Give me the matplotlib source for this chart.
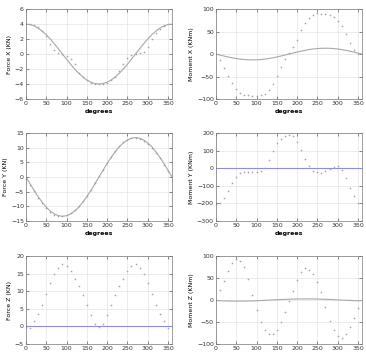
import numpy as np
import matplotlib
matplotlib.use("Agg")
import matplotlib.pyplot as plt

# angles
deg_line = list(range(0, 361, 10))
deg_dots = list(range(0, 351, 10))

# Force X (KN)
fx_line = [4.0, 3.94, 3.76, 3.46, 3.06, 2.57, 2.0, 1.37, 0.69, 0.0, -0.69, -1.37, -2.0,
           -2.57, -3.06, -3.46, -3.76, -3.94, -4.0, -3.94, -3.76, -3.46, -3.06, -2.57,
           -2.0, -1.37, -0.69, 0.0, 0.69, 1.37, 2.0, 2.57, 3.06, 3.46, 3.76, 3.94, 4.0]
fx_dots = [4.0, 4.0, 3.9, 3.6, 3.1, 2.4, 1.3, 0.6, 0.2, 0.0, -0.2, -0.6, -1.3, -2.5, -3.1,
           -3.5, -3.8, -4.0, -4.0, -4.0, -3.8, -3.5, -3.1, -2.3, -1.3, -0.5, -0.1, 0.0,
           0.1, 0.3, 1.0, 2.0, 2.8, 3.4, 3.8, 4.0]

# Moment X (KNm)
mx_line = [0.0, -2.3, -4.4, -6.5, -8.4, -10.0, -11.3, -12.2, -12.8, -13.0, -12.8, -12.2,
           -11.3, -10.0, -8.4, -6.5, -4.4, -2.3, 0.0, 2.3, 4.4, 6.5, 8.4, 10.0, 11.3, 12.2,
           12.8, 13.0, 12.8, 12.2, 11.3, 10.0, 8.4, 6.5, 4.4, 2.3, 0.0]
mx_dots = [0, -13, -30, -48, -64, -77, -86, -91, -92, -93, -93, -91, -88, -81, -67, -49,
           -28, -10, 3, 15, 31, 53, 69, 81, 88, 91, 90, 89, 87, 82, 74, 63, 45, 25, 10, 0]

# Force Y (KN)
fy_line = [0.0, -2.3, -4.6, -6.7, -8.6, -10.3, -11.6, -12.6, -13.2, -13.4, -13.2, -12.6,
           -11.6, -10.3, -8.6, -6.7, -4.6, -2.3, 0.0, 2.3, 4.6, 6.7, 8.6, 10.3, 11.6, 12.6,
           13.2, 13.4, 13.2, 12.6, 11.6, 10.3, 8.6, 6.7, 4.6, 2.3, 0.0]
fy_dots = [-0.6, -2.6, -4.9, -7.0, -9.0, -10.6, -11.8, -12.8, -13.4, -13.2, -13.0, -12.2,
           -11.3, -10.0, -8.3, -6.4, -4.3, -2.1, 0.3, 2.5, 4.8, 6.9, 8.8, 10.5, 11.8, 12.7,
           13.3, 13.3, 13.0, 12.4, 11.3, 10.0, 8.3, 6.4, 4.2, 2.0]

# Moment Y (KNm)
my_line = [0.0] * 37
my_dots = [-205, -198, -168, -130, -85, -48, -30, -24, -24, -24, -24, -15, 2, 45, 97, 140,
           165, 185, 190, 185, 148, 105, 52, 13, -15, -24, -26, -17, -3, 8, 15, -8, -55,
           -110, -157, -198]

# Force Z (KN)
fz_line = [0.0] * 37
fz_dots = [-0.2, -0.4, 1.6, 3.6, 6.1, 9.1, 12.2, 14.8, 16.6, 17.6, 17.1, 15.8, 13.6, 11.4,
           8.8, 6.2, 3.3, 0.7, -0.2, 0.7, 3.2, 6.2, 8.8, 11.4, 13.6, 15.8, 17.1, 17.6, 16.6,
           14.8, 12.2, 9.1, 6.1, 3.6, 1.6, -0.4]

# Moment Z (KNm)
mz_line = [-1.2, -1.6, -2.0, -2.2, -2.4, -2.5, -2.5, -2.4, -2.2, -2.0, -1.6, -1.2, -0.8,
           -0.3, 0.2, 0.6, 1.0, 1.4, 1.8, 2.1, 2.3, 2.4, 2.5, 2.5, 2.4, 2.2, 2.0, 1.6, 1.2,
           0.8, 0.3, -0.2, -0.6, -1.0, -1.4, -1.8, -1.2]
mz_dots = [0, 22, 43, 65, 84, 93, 89, 75, 48, 11, -22, -49, -67, -77, -77, -67, -51, -27,
           -3, 20, 45, 64, 72, 69, 59, 42, 18, -17, -47, -69, -81, -87, -78, -62, -41, -18]

panels = [
    (fx_line, fx_dots, "Force X (KN)", (-6, 6), np.arange(-6, 7, 2), "#a8a8a8"),
    (mx_line, mx_dots, "Moment X (KNm)", (-100, 100), np.arange(-100, 101, 50), "#a8a8a8"),
    (fy_line, fy_dots, "Force Y (KN)", (-15, 15), np.arange(-15, 16, 5), "#a8a8a8"),
    (my_line, my_dots, "Moment Y (KNm)", (-300, 200), np.arange(-300, 201, 100), "#8c8cf0"),
    (fz_line, fz_dots, "Force Z (KN)", (-5, 20), np.arange(-5, 21, 5), "#8c8cf0"),
    (mz_line, mz_dots, "Moment Z (KNm)", (-100, 100), np.arange(-100, 101, 50), "#a8a8a8"),
]

fig = plt.figure(figsize=(3.66, 3.58), dpi=100)
lefts = [0.071, 0.590]
rows = [(0.7235, 0.251), (0.3827, 0.246), (0.039, 0.246)]

for i, (line, dots, ylabel, ylim, yticks, lcol) in enumerate(panels):
    r, c = divmod(i, 2)
    ax = fig.add_axes([lefts[c], rows[r][0], 0.399, rows[r][1]])
    ax.grid(True, color="#e4e4e4", linewidth=0.5)
    ax.set_axisbelow(True)
    ax.plot(deg_line, line, color=lcol, lw=0.8)
    ax.plot(deg_dots, dots, ls="none", marker="o", ms=1.2, mew=0, color="#a5a5a5")
    ax.set_xlim(0, 360)
    ax.set_ylim(*ylim)
    ax.set_xticks(np.arange(0, 351, 50))
    ax.set_yticks(yticks)
    ax.tick_params(direction="in", length=2, width=0.4, labelsize=4.5, pad=1.5,
                   top=True, right=True, colors="#333333")
    for s in ax.spines.values():
        s.set_linewidth(0.5)
        s.set_color("#777777")
    ax.set_ylabel(ylabel, fontsize=4.5, labelpad=2)
    if r < 2:
        # bottom row's label falls outside the picture in the original
        ax.set_xlabel("degrees", fontsize=4.5, labelpad=2, fontweight="bold")

fig.savefig("out.png", dpi=100)
